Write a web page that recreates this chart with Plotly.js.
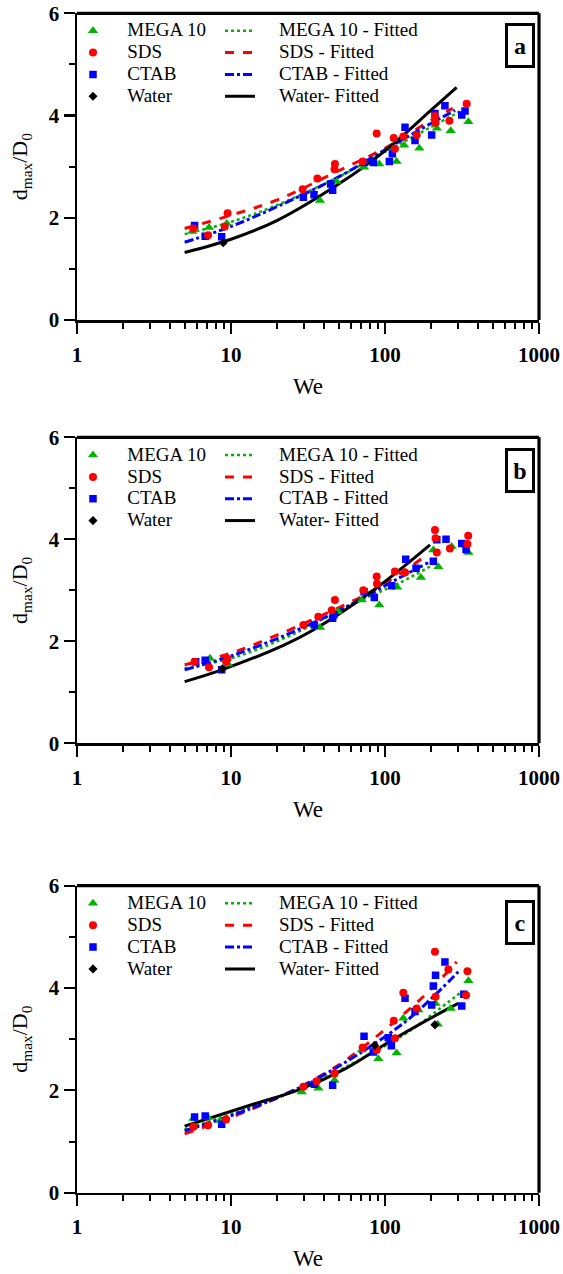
<!DOCTYPE html>
<html><head><meta charset="utf-8">
<script src="https://cdn.plot.ly/plotly-3.0.1.min.js"></script>
<style>html,body{margin:0;padding:0;background:#fff}</style>
</head><body><div id="chart" style="width:563px;height:1274px"></div>
<script>
// ---------- Panel a ----------
const A_MEGA_X  = [5.6, 7.2, 9.4, 37.8, 48.5, 73.1, 91.8, 119, 133, 167, 217, 267, 348];
const A_MEGA_Y  = [1.73, 1.81, 1.89, 2.34, 2.71, 2.99, 3.05, 3.10, 3.42, 3.36, 3.75, 3.70, 3.88];
const A_SDS_X   = [5.7, 7.1, 9.1, 9.5, 29.2, 36.4, 47.3, 47, 71.6, 88.3, 114, 116, 131.5, 160.6, 211, 213, 262, 339];
const A_SDS_Y   = [1.79, 1.66, 1.83, 2.09, 2.56, 2.77, 3.05, 2.95, 3.10, 3.65, 3.56, 3.35, 3.59, 3.62, 3.99, 3.86, 3.90, 4.23];
const A_CTAB_X  = [5.8, 6.8, 8.7, 29.5, 34.6, 45.7, 44.4, 72.3, 84, 106.7, 111.6, 134.9, 156.6, 201, 211, 245, 315, 331];
const A_CTAB_Y  = [1.85, 1.64, 1.63, 2.40, 2.45, 2.54, 2.66, 3.08, 3.08, 3.10, 3.25, 3.77, 3.51, 3.62, 4.04, 4.19, 4.01, 4.09];
const A_WATER_X = [8.9];
const A_WATER_Y = [1.51];
const A_MEGA_FIT_X  = [5, 10, 20, 50, 100, 200, 307];
const A_MEGA_FIT_Y  = [1.68, 1.92, 2.25, 2.80, 3.29, 3.78, 4.08];
const A_SDS_FIT_X   = [5, 10, 20, 50, 100, 200, 276];
const A_SDS_FIT_Y   = [1.79, 2.05, 2.35, 2.92, 3.36, 3.91, 4.14];
const A_CTAB_FIT_X  = [5, 10, 20, 50, 100, 200, 285];
const A_CTAB_FIT_Y  = [1.52, 1.83, 2.22, 2.80, 3.33, 3.85, 4.10];
const A_WATER_FIT_X = [5, 10, 20, 50, 100, 200, 292];
const A_WATER_FIT_Y = [1.32, 1.58, 1.95, 2.66, 3.31, 4.11, 4.55];

// ---------- Panel b ----------
const B_MEGA_X  = [7.3, 9.6, 37.8, 49.7, 70.6, 91.8, 120, 171, 206, 222, 271, 348];
const B_MEGA_Y  = [1.67, 1.55, 2.27, 2.58, 2.81, 2.71, 3.06, 3.25, 3.79, 3.46, 3.86, 3.74];
const B_SDS_X   = [5.8, 7.2, 9.3, 9.5, 29.5, 36.9, 45.1, 47.3, 72.3, 88.3, 88.7, 116, 135, 211, 213, 217, 264, 347, 343];
const B_SDS_Y   = [1.60, 1.49, 1.60, 1.66, 2.32, 2.48, 2.61, 2.81, 3.00, 3.27, 3.13, 3.37, 3.35, 4.18, 4.02, 3.74, 3.82, 4.07, 3.91];
const B_CTAB_X  = [5.9, 6.8, 8.7, 34.8, 45.7, 46.5, 73.1, 85.2, 110.5, 136.3, 159, 206, 217, 249, 315, 336];
const B_CTAB_Y  = [1.60, 1.63, 1.44, 2.32, 2.45, 2.52, 2.97, 2.86, 3.09, 3.61, 3.43, 3.57, 3.99, 4.00, 3.92, 3.80];
const B_WATER_X = [8.8];
const B_WATER_Y = [1.46];
const B_MEGA_FIT_X  = [5, 10.9, 25.4, 56.4, 125, 205];
const B_MEGA_FIT_Y  = [1.47, 1.70, 2.14, 2.68, 3.15, 3.50];
const B_SDS_FIT_X   = [5, 9.8, 18.8, 39.7, 84, 187];
const B_SDS_FIT_Y   = [1.54, 1.76, 2.09, 2.52, 3.00, 3.69];
const B_CTAB_FIT_X  = [5, 10.4, 24.2, 56.4, 125, 196];
const B_CTAB_FIT_Y  = [1.44, 1.73, 2.16, 2.68, 3.25, 3.56];
const B_WATER_FIT_X = [5, 8.7, 21.9, 34.2, 84, 196];
const B_WATER_FIT_Y = [1.21, 1.44, 1.92, 2.22, 3.00, 3.89];

// ---------- Panel c ----------
const C_MEGA_X  = [5.7, 7.1, 8.5, 28.8, 36.9, 47, 70.6, 90.5, 119, 131.5, 165, 213, 220, 267, 348];
const C_MEGA_Y  = [1.45, 1.47, 1.41, 1.97, 2.04, 2.20, 2.79, 2.62, 2.73, 3.41, 3.57, 3.70, 3.29, 3.60, 4.14];
const C_SDS_X   = [5.7, 7.1, 9.3, 29.5, 36, 47, 71.6, 88.3, 114, 116, 131.5, 160.6, 211, 213, 258, 336, 343];
const C_SDS_Y   = [1.29, 1.32, 1.43, 2.07, 2.18, 2.33, 2.84, 2.79, 3.36, 3.02, 3.91, 3.60, 4.71, 3.83, 4.36, 3.86, 4.33];
const C_CTAB_X  = [5.8, 6.8, 8.7, 34.8, 45.7, 73.1, 84, 105, 110, 134.9, 156.6, 201, 206, 213, 245, 315, 325];
const C_CTAB_Y  = [1.48, 1.50, 1.34, 2.12, 2.10, 3.06, 2.75, 3.03, 2.87, 3.80, 3.54, 3.67, 4.04, 4.25, 4.51, 3.65, 3.88];
const C_WATER_X = [85.6, 211];
const C_WATER_Y = [2.88, 3.28];
const C_MEGA_FIT_X  = [5, 13.3, 28.1, 55, 131.5, 206, 315];
const C_MEGA_FIT_Y  = [1.24, 1.66, 2.04, 2.45, 3.08, 3.50, 3.93];
const C_SDS_FIT_X   = [5, 13.3, 28.1, 52, 92.8, 177, 292];
const C_SDS_FIT_Y   = [1.15, 1.62, 2.07, 2.53, 3.11, 3.83, 4.51];
const C_CTAB_FIT_X  = [5, 13.3, 28.1, 52, 131.5, 228, 299];
const C_CTAB_FIT_Y  = [1.21, 1.64, 2.06, 2.50, 3.31, 3.96, 4.32];
const C_WATER_FIT_X = [5, 13.3, 28.1, 55, 108, 206, 299];
const C_WATER_FIT_Y = [1.30, 1.71, 2.02, 2.42, 2.96, 3.44, 3.70];

const PANEL_LABELS = ['a', 'b', 'c'];
const SERIES_NAMES = ['MEGA 10', 'SDS', 'CTAB', 'Water'];
const FIT_NAMES = ['MEGA 10 - Fitted', 'SDS - Fitted', 'CTAB - Fitted', 'Water- Fitted'];
const X_TITLE = 'We';
const Y_TITLE = 'd<sub>max</sub>/D<sub>0</sub>';

// ---------- styling ----------
const FONT = 'Liberation Serif';
const GREEN = '#00b400', RED = '#ff0000', BLUE = '#0000ff', BLACK = '#000000';
const NB = '\u00a0';
const W = 563, H = 1274, ML = 77, MR = 24, MT = 13, MB = 81;
const px2p = px => (px - ML) / (W - ML - MR);
const py2p = py => (H - MB - py) / (H - MT - MB);
const panelTop = [13.3, 437.3, 885.7];
const panelBot = [320, 743.3, 1192.7];
const legTop = [14.8, 439.1, 887.4];
const boxCenter = [45.8, 470.8, 923];

const panels = [
  {mx:A_MEGA_X,my:A_MEGA_Y,sx:A_SDS_X,sy:A_SDS_Y,cx:A_CTAB_X,cy:A_CTAB_Y,wx:A_WATER_X,wy:A_WATER_Y,
   fmx:A_MEGA_FIT_X,fmy:A_MEGA_FIT_Y,fsx:A_SDS_FIT_X,fsy:A_SDS_FIT_Y,fcx:A_CTAB_FIT_X,fcy:A_CTAB_FIT_Y,fwx:A_WATER_FIT_X,fwy:A_WATER_FIT_Y},
  {mx:B_MEGA_X,my:B_MEGA_Y,sx:B_SDS_X,sy:B_SDS_Y,cx:B_CTAB_X,cy:B_CTAB_Y,wx:B_WATER_X,wy:B_WATER_Y,
   fmx:B_MEGA_FIT_X,fmy:B_MEGA_FIT_Y,fsx:B_SDS_FIT_X,fsy:B_SDS_FIT_Y,fcx:B_CTAB_FIT_X,fcy:B_CTAB_FIT_Y,fwx:B_WATER_FIT_X,fwy:B_WATER_FIT_Y},
  {mx:C_MEGA_X,my:C_MEGA_Y,sx:C_SDS_X,sy:C_SDS_Y,cx:C_CTAB_X,cy:C_CTAB_Y,wx:C_WATER_X,wy:C_WATER_Y,
   fmx:C_MEGA_FIT_X,fmy:C_MEGA_FIT_Y,fsx:C_SDS_FIT_X,fsy:C_SDS_FIT_Y,fcx:C_CTAB_FIT_X,fcy:C_CTAB_FIT_Y,fwx:C_WATER_FIT_X,fwy:C_WATER_FIT_Y}
];

const lab = (t, pad) => '<span style="font-size:19px">' + NB.repeat(pad) + t + '</span>';

const traces = [];
const layout = {
  width: W, height: H,
  margin: {l: ML, r: MR, t: MT, b: MB},
  paper_bgcolor: '#fff', plot_bgcolor: '#fff',
  font: {family: FONT, color: '#000'},
  showlegend: true,
  shapes: [], annotations: []
};

panels.forEach((p, i) => {
  const n = i === 0 ? '' : String(i + 1);
  const xa = 'x' + n, ya = 'y' + n;
  const lm = 'legend' + (i === 0 ? '' : String(2 * i + 1));
  const ll = 'legend' + String(2 * i + 2);
  const fitStyles = [
    {x: p.fmx, y: p.fmy, c: GREEN, d: 'dot', w: 2.5},
    {x: p.fsx, y: p.fsy, c: RED, d: 'dash', w: 3},
    {x: p.fcx, y: p.fcy, c: BLUE, d: 'dashdot', w: 3},
    {x: p.fwx, y: p.fwy, c: BLACK, d: 'solid', w: 3}
  ];
  fitStyles.forEach((f, k) => traces.push({
    type: 'scatter', mode: 'lines', x: f.x, y: f.y, xaxis: xa, yaxis: ya,
    line: {color: f.c, dash: f.d, width: f.w, shape: 'spline', smoothing: 1},
    name: lab(FIT_NAMES[k], 4), legend: ll, hoverinfo: 'skip'
  }));
  const mk = [
    {x: p.mx, y: p.my, c: GREEN, s: 'triangle-up', z: 9, r: 1, nm: 0},
    {x: p.cx, y: p.cy, c: BLUE, s: 'square', z: 7.5, r: 3, nm: 2},
    {x: p.sx, y: p.sy, c: RED, s: 'circle', z: 8, r: 2, nm: 1},
    {x: p.wx, y: p.wy, c: BLACK, s: 'diamond', z: 7, r: 4, nm: 3}
  ];
  mk.forEach(m => traces.push({
    type: 'scatter', mode: 'markers', x: m.x, y: m.y, xaxis: xa, yaxis: ya,
    marker: {symbol: m.s, size: m.z, color: m.c, line: {width: 0}},
    name: lab(SERIES_NAMES[m.nm], 3), legend: lm, legendrank: m.r, hoverinfo: 'skip'
  }));

  const yDom = [py2p(panelBot[i]), py2p(panelTop[i])];
  layout['xaxis' + n] = {
    anchor: ya, domain: [0, 1], type: 'log', range: [0, 3], dtick: 1,
    showline: true, linewidth: 2.5, linecolor: '#000', showgrid: false, zeroline: false,
    ticks: 'outside', ticklen: 11, tickwidth: 2.2, tickcolor: '#000',
    minor: {ticks: 'outside', ticklen: 6, tickwidth: 2, tickcolor: '#000', dtick: 'D1', showgrid: false},
    tickfont: {family: FONT, size: 21, weight: 'bold', color: '#000'},
    ticklabelstandoff: 3,
    title: {text: X_TITLE, font: {family: FONT, size: 23, color: '#000'}, standoff: 12},
    fixedrange: true
  };
  layout['yaxis' + n] = {
    anchor: xa, domain: yDom, range: [0, 6], dtick: 2,
    showline: true, linewidth: 2.5, linecolor: '#000', showgrid: false, zeroline: false,
    ticks: 'outside', ticklen: 11, tickwidth: 2.2, tickcolor: '#000',
    minor: {ticks: 'outside', ticklen: 6, tickwidth: 2, tickcolor: '#000', dtick: 1, showgrid: false},
    tickfont: {family: FONT, size: 21, weight: 'bold', color: '#000'},
    title: {text: Y_TITLE, font: {family: FONT, size: 22, color: '#000'}, standoff: 15},
    fixedrange: true
  };
  // top and right frame lines (heavier)
  layout.shapes.push(
    {type: 'line', xref: xa + ' domain', yref: ya + ' domain', x0: 0, x1: 1, y0: 1, y1: 1, line: {color: '#000', width: 3.2}},
    {type: 'line', xref: xa + ' domain', yref: ya + ' domain', x0: 1, x1: 1, y0: 0, y1: 1, line: {color: '#000', width: 3.2}}
  );
  layout.annotations.push({
    xref: 'paper', yref: 'paper', x: px2p(520), y: py2p(boxCenter[i]),
    xanchor: 'center', yanchor: 'middle', showarrow: false,
    text: '<b>' + PANEL_LABELS[i] + '</b>', font: {family: FONT, size: 24, color: '#000'},
    bordercolor: '#000', borderwidth: 3, borderpad: 0, width: 24, height: 39, bgcolor: '#fff'
  });
  const legBase = {yanchor: 'top', xanchor: 'left', bgcolor: 'rgba(0,0,0,0)', borderwidth: 0,
                   font: {family: FONT, size: 14.5, color: '#000'}, orientation: 'v', traceorder: 'normal'};
  layout[lm] = Object.assign({}, legBase, {x: px2p(73), y: py2p(legTop[i])});
  layout[ll] = Object.assign({}, legBase, {x: px2p(220), y: py2p(legTop[i])});
});

Plotly.newPlot('chart', traces, layout, {staticPlot: true, displayModeBar: false});
</script></body></html>
